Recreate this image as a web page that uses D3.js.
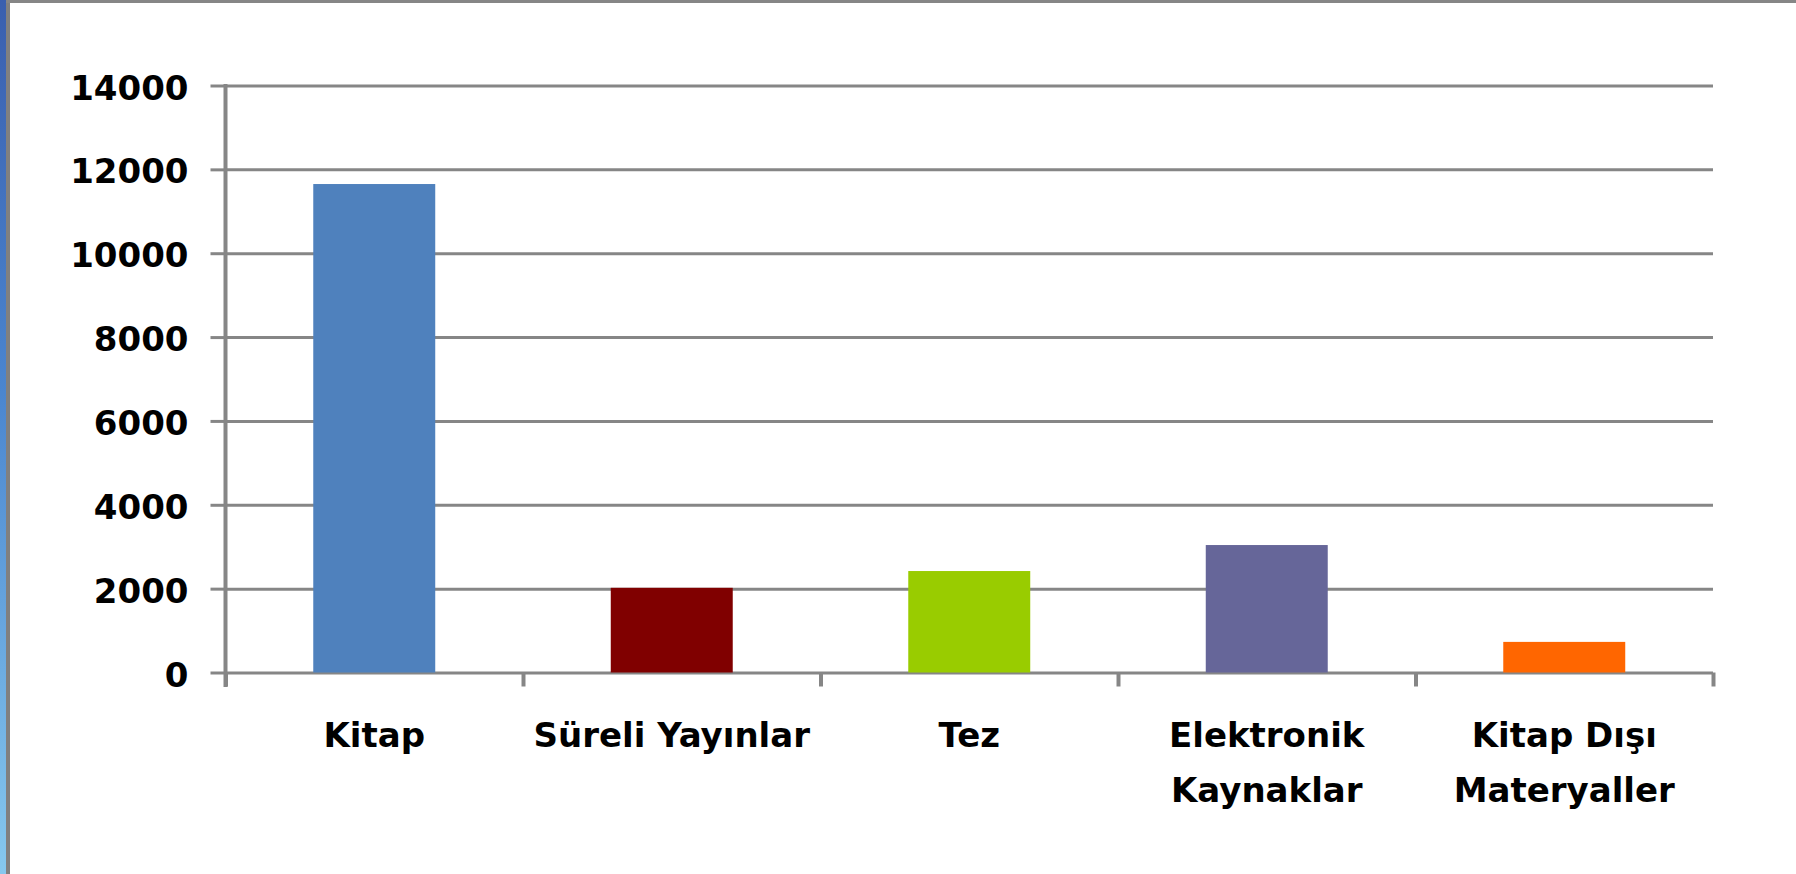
<!DOCTYPE html>
<html>
<head>
<meta charset="utf-8">
<script src="https://cdn.jsdelivr.net/npm/d3@7"></script>
<style>
  html, body { margin: 0; padding: 0; background: #fff; }
  svg { display: block; }
  text { font-family: "DejaVu Sans", Verdana, sans-serif; font-weight: bold; fill: #000; }
</style>
</head>
<body>
<svg id="chart"></svg>
<script>
// data
const categories = ["Kitap", "Süreli Yayınlar", "Tez", "Elektronik Kaynaklar", "Kitap Dışı Materyaller"];
const labelLines = [["Kitap"], ["Süreli Yayınlar"], ["Tez"], ["Elektronik", "Kaynaklar"], ["Kitap Dışı", "Materyaller"]];
const values = [11650, 2020, 2420, 3040, 730];
const barColors = ["#4f81bd", "#800000", "#99cc00", "#666699", "#ff6600"];
const yTicks = [0, 2000, 4000, 6000, 8000, 10000, 12000, 14000];

const W = 1796, H = 874;
const margin = { top: 85.5, left: 225.5, right: W - 1713, bottom: H - 672.5 };
const width = W - margin.left - margin.right;
const height = H - margin.top - margin.bottom;
const gridColor = "#868686";

const svg = d3.select('#chart').attr('width', W).attr('height', H);

// window frame: blue strip on the left, grey edges
const defs = svg.append('defs');
const grad = defs.append('linearGradient').attr('id', 'strip')
    .attr('x1', 0).attr('y1', 0).attr('x2', 0).attr('y2', 1);
grad.append('stop').attr('offset', '0%').attr('stop-color', '#3a5fae');
grad.append('stop').attr('offset', '45%').attr('stop-color', '#4b86cf');
grad.append('stop').attr('offset', '100%').attr('stop-color', '#86c8ee');
svg.append('rect').attr('x', 0).attr('y', 0).attr('width', 6).attr('height', H).attr('fill', 'url(#strip)');
svg.append('rect').attr('x', 6).attr('y', 0).attr('width', 4).attr('height', H).attr('fill', '#808080');
svg.append('rect').attr('x', 6).attr('y', 0).attr('width', W).attr('height', 3).attr('fill', '#868686');

const g = svg.append('g').attr('transform', `translate(${margin.left},${margin.top})`);

// scales
const x = d3.scaleBand().domain(categories).range([0, width])
    .paddingInner(0.59).paddingOuter(0.295);
const y = d3.scaleLinear().domain([0, 14000]).range([height, 0]);
const xEdges = d3.scaleLinear().domain([0, categories.length]).range([0, width]);

// gridlines (also the 0 line / x axis)
const grid = g.append('g')
    .call(d3.axisLeft(y).tickValues(yTicks).tickSize(-width).tickFormat(''));
grid.select('.domain').remove();
grid.selectAll('line').attr('stroke', gridColor).attr('stroke-width', 3);

// y axis with tick marks and labels
const yAxis = g.append('g')
    .call(d3.axisLeft(y).tickValues(yTicks).tickFormat(d3.format('d'))
        .tickSizeInner(15).tickSizeOuter(0).tickPadding(22));
yAxis.select('.domain').remove();
yAxis.selectAll('line').attr('stroke', gridColor).attr('stroke-width', 3);
yAxis.selectAll('text')
    .attr('font-size', 34).attr('dy', '0.4em')
    .style('font-family', '"DejaVu Sans", Verdana, sans-serif').style('font-weight', 'bold').attr('fill', '#000');
g.append('line')
    .attr('x1', 0).attr('x2', 0).attr('y1', y(14000) - 1.5).attr('y2', height + 14.5)
    .attr('stroke', gridColor).attr('stroke-width', 4);

// bars
g.selectAll('rect.bar').data(values).enter().append('rect')
    .attr('class', 'bar')
    .attr('x', (d, i) => x(categories[i]))
    .attr('y', (d) => y(d))
    .attr('width', x.bandwidth())
    .attr('height', (d) => y(0) - y(d))
    .attr('fill', (d, i) => barColors[i]);

// x axis category separators
const xAxis = g.append('g').attr('transform', `translate(0,${height})`)
    .call(d3.axisBottom(xEdges).ticks(categories.length).tickSize(14).tickFormat(''));
xAxis.select('.domain').remove();
xAxis.selectAll('line').attr('stroke', gridColor).attr('stroke-width', 4);

// category labels
const labels = g.selectAll('text.cat').data(labelLines).enter().append('text')
    .attr('class', 'cat')
    .attr('text-anchor', 'middle')
    .attr('font-size', 34)
    .attr('transform', (d, i) => `translate(${x(categories[i]) + x.bandwidth() / 2},${height + 74.5})`);
labels.selectAll('tspan').data((d) => d).enter().append('tspan')
    .attr('x', 0)
    .attr('y', (d, j) => j * 55)
    .text((d) => d);
</script>
</body>
</html>
